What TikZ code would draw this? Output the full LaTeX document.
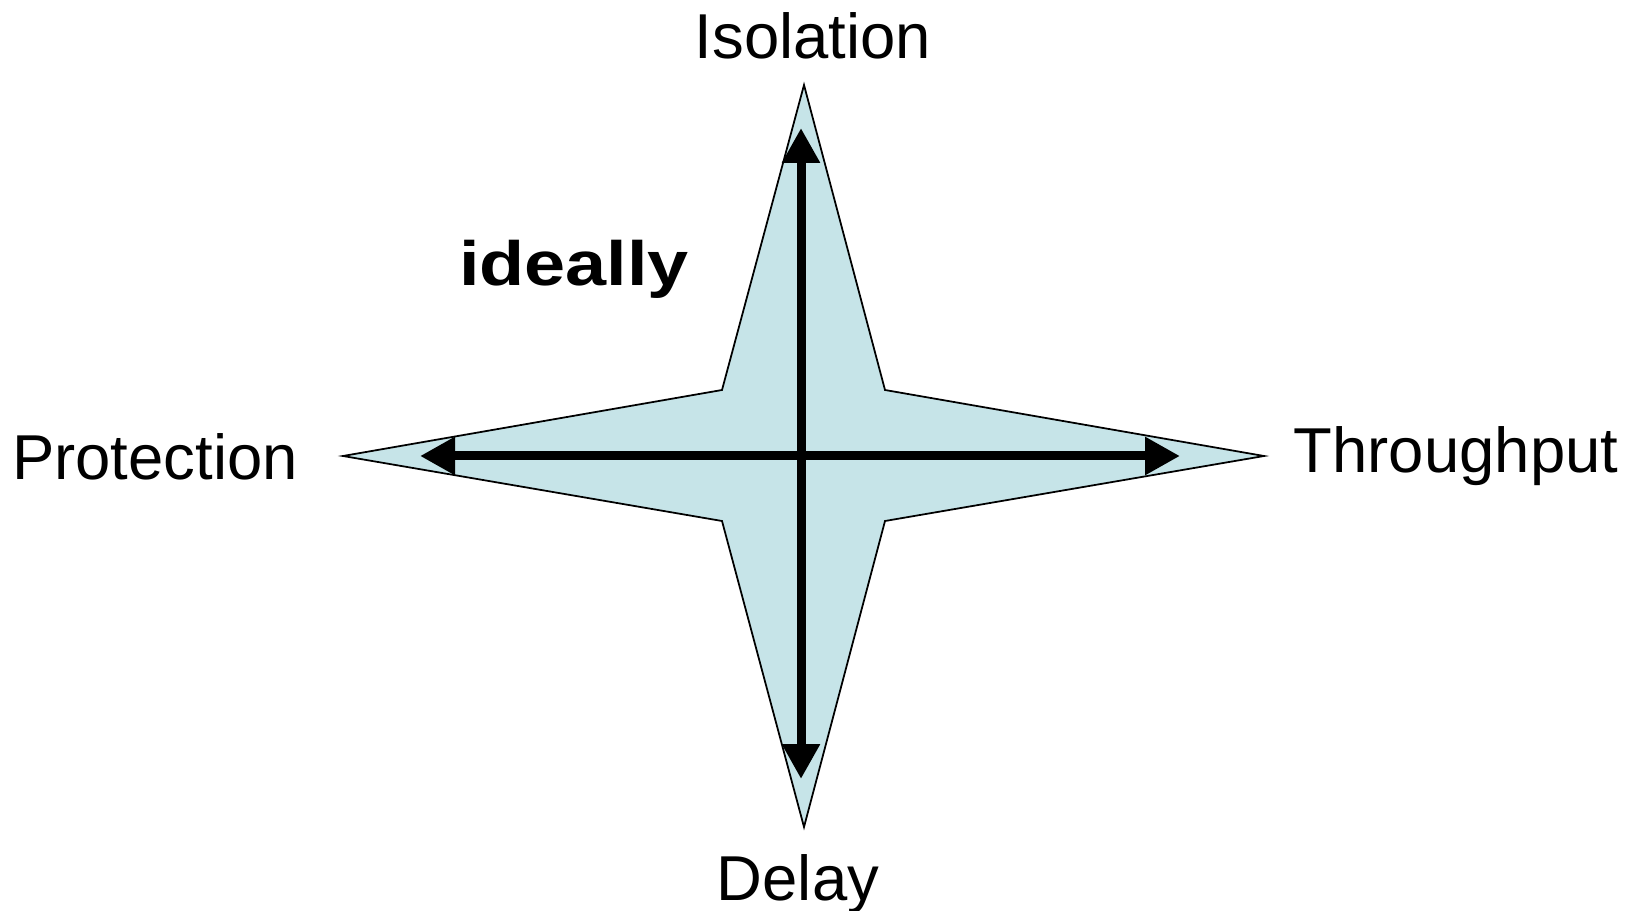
\documentclass[tikz,border=0pt]{standalone}
\usepackage{fontspec}
\setmainfont{Liberation Sans}
\usepackage{graphicx}
\usepackage{tikz}
\usetikzlibrary{arrows.meta}
\definecolor{starfill}{RGB}{198,228,232}
\tikzset{
	staredge/.style={draw=black,line width=1pt,fill=starfill,line join=miter},
	axisarrow/.style={{Triangle[length=0.7cm,width=0.72cm]}-{Triangle[length=0.7cm,width=0.72cm]},line width=0.18cm},
	axislabel/.style={anchor=base,inner sep=0pt,font=\fontsize{36.1pt}{42pt}\selectfont}
}

\begin{document}
\begin{tikzpicture}[x=0.02cm,y=-0.02cm,
			notebox/.style={anchor=base,inner sep=0pt,font=\fontsize{35.6pt}{42pt}\selectfont\bfseries}]
			
			\useasboundingbox (0,0) rectangle (1635,911);
			
			\coordinate (starN) at (804,85);
			\coordinate (starE) at (1264,456);
			\coordinate (starS) at (804,827);
			\coordinate (starW) at (343,456);
			\draw[staredge] (starN) -- (885,390) -- (starE) -- (885,521) -- (starS)
			-- (722,521) -- (starW) -- (722,390) -- cycle;
			
			\coordinate (isoTip) at (801,128);
			\coordinate (delTip) at (801,779);
			\coordinate (proTip) at (420,456);
			\coordinate (thrTip) at (1180,456);
			\draw[axisarrow] (delTip) -- (isoTip);
			\draw[axisarrow] (proTip) -- (thrTip);
			
			\node[axislabel] (iso) at (813,59) {Isolation};
			\node[axislabel] (del) at (798,900) {Delay};
			\node[axislabel] (pro) at (155,480) {Protection};
			\node[axislabel] (thr) at (1456,473) {Throughput};
			\node[notebox] (ideal) at (574,286) {\scalebox{1.18}[1]{ideally}};
		\end{tikzpicture}
\end{document}
